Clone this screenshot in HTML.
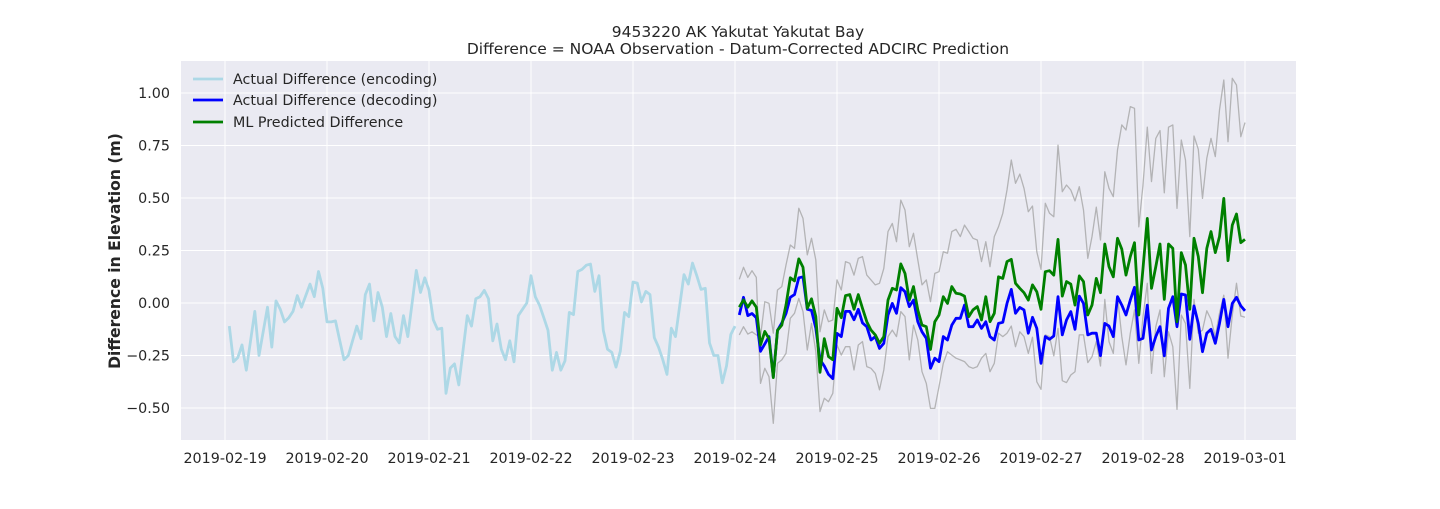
<!DOCTYPE html>
<html><head><meta charset="utf-8"><style>
body{margin:0;background:#fff;width:1440px;height:504px;overflow:hidden}
text{font-family:"DejaVu Sans","Liberation Sans",sans-serif;fill:#262626}
</style></head><body>
<svg id="chart" width="1440" height="504" xmlns="http://www.w3.org/2000/svg">
<rect x="0" y="0" width="1440" height="504" fill="#fff"/>
<rect x="181" y="61" width="1115" height="379" fill="#eaeaf2"/>
<g id="grid"></g>
<g id="series"></g>
<g id="ticks"></g>
<text x="738" y="37" text-anchor="middle" font-size="15.5">9453220 AK Yakutat Yakutat Bay</text>
<text x="738" y="54" text-anchor="middle" font-size="15.5">Difference = NOAA Observation - Datum-Corrected ADCIRC Prediction</text>
<text transform="translate(120,251) rotate(-90)" text-anchor="middle" font-size="15.6" font-weight="bold">Difference in Elevation (m)</text>
<g>
<line x1="193" y1="79" x2="223" y2="79" stroke="#add8e6" stroke-width="2.8"/>
<text x="233" y="84" font-size="14.3">Actual Difference (encoding)</text>
<line x1="193" y1="100" x2="223" y2="100" stroke="#0000ff" stroke-width="2.8"/>
<text x="233" y="105" font-size="14.3">Actual Difference (decoding)</text>
<line x1="193" y1="122" x2="223" y2="122" stroke="#008000" stroke-width="2.8"/>
<text x="233" y="127" font-size="14.3">ML Predicted Difference</text>
</g>
</svg>
<script>
const encHours=[1,2,3,4,5,7,8,10,11,12,13,14,15,16,17,18,20,21,22,23,24,25,26,27,28,29,31,32,33,34,35,36,37,38,39,40,41,42,43,45,46,47,48,49,50,51,52,53,54,55,57,58,59,60,61,62,63,64,65,66,67,68,69,70,71,72,73,74,75,76,77,78,79,80,81,82,83,84,85,86,87,88,89,90,91,92,93,94,95,96,97,98,99,100,101,102,103,104,105,106,107,108,109,110,111,112,113,114,115,116,117,118,119,120];
const encValues=[-0.11,-0.28,-0.26,-0.20,-0.32,-0.04,-0.25,-0.02,-0.21,0.01,-0.03,-0.09,-0.07,-0.04,0.035,-0.02,0.09,0.03,0.15,0.07,-0.09,-0.09,-0.085,-0.18,-0.27,-0.25,-0.11,-0.17,0.04,0.09,-0.085,0.05,-0.02,-0.16,-0.05,-0.16,-0.19,-0.06,-0.16,0.155,0.05,0.12,0.06,-0.08,-0.125,-0.12,-0.43,-0.31,-0.29,-0.39,-0.06,-0.11,0.02,0.03,0.06,0.02,-0.18,-0.10,-0.22,-0.27,-0.18,-0.28,-0.06,-0.03,0.0,0.13,0.03,-0.01,-0.07,-0.13,-0.32,-0.235,-0.32,-0.275,-0.045,-0.055,0.15,0.16,0.18,0.185,0.055,0.13,-0.13,-0.22,-0.235,-0.305,-0.23,-0.045,-0.065,0.10,0.095,0.005,0.055,0.04,-0.165,-0.21,-0.27,-0.34,-0.12,-0.16,-0.01,0.135,0.09,0.19,0.13,0.065,0.07,-0.19,-0.25,-0.25,-0.38,-0.30,-0.15,-0.11];
const decStartHour=121;
const decValues=[-0.057,0.027,-0.06,-0.05,-0.07,-0.23,-0.195,-0.16,-0.35,-0.13,-0.095,-0.05,0.027,0.04,0.12,0.125,-0.03,-0.035,-0.12,-0.27,-0.30,-0.34,-0.36,-0.145,-0.16,-0.04,-0.04,-0.08,-0.03,-0.095,
-0.113,-0.176,-0.160,-0.216,-0.192,-0.057,-0.002,-0.049,0.073,0.054,-0.017,0.014,-0.089,-0.137,-0.168,-0.311,-0.263,-0.279,-0.160,-0.176,-0.105,-0.073,-0.073,-0.01,-0.113,-0.113,-0.081,-0.121,-0.089,-0.16,-0.176,
-0.097,-0.092,-0.002,0.065,-0.049,-0.021,-0.033,-0.144,-0.068,-0.121,-0.287,-0.160,-0.173,-0.157,0.03,-0.152,-0.081,-0.041,-0.125,0.033,-0.002,-0.152,-0.144,-0.144,-0.251,-0.097,-0.11,-0.16,0.03,-0.01,
-0.057,0.014,0.075,-0.176,-0.168,-0.01,-0.224,-0.16,-0.113,-0.252,-0.025,0.03,-0.113,0.043,0.038,-0.173,-0.014,-0.097,-0.232,-0.144,-0.125,-0.192,-0.097,0.017,-0.113,-0.002,0.027,-0.014,-0.037];
const mlValues=[-0.02,0.015,-0.02,0.01,-0.02,-0.20,-0.135,-0.17,-0.355,-0.13,-0.105,-0.01,0.12,0.105,0.21,0.17,-0.025,0.02,-0.065,-0.33,-0.17,-0.255,-0.27,-0.025,-0.07,0.035,0.04,-0.03,0.04,-0.025,
-0.089,-0.129,-0.152,-0.192,-0.160,0.014,0.07,0.062,0.186,0.141,0.014,0.078,-0.033,-0.105,-0.113,-0.221,-0.089,-0.057,0.03,-0.002,0.078,0.046,0.043,0.033,-0.065,-0.033,-0.017,-0.081,0.03,-0.089,-0.049,
0.125,0.117,0.197,0.208,0.094,0.07,0.049,0.014,0.086,0.054,-0.03,0.149,0.154,0.133,0.303,0.033,0.102,0.09,-0.01,0.129,0.102,-0.057,-0.01,0.117,0.049,0.281,0.173,0.125,0.308,0.256,
0.133,0.221,0.287,-0.057,0.165,0.403,0.07,0.173,0.281,0.017,0.281,0.26,-0.089,0.24,0.181,-0.03,0.308,0.221,0.049,0.26,0.34,0.24,0.316,0.498,0.202,0.371,0.424,0.287,0.303];
const grayA=[0.113,0.17,0.122,0.154,0.122,-0.383,-0.311,-0.351,-0.573,-0.287,-0.271,-0.240,-0.073,-0.049,0.022,-0.041,-0.224,-0.097,-0.232,-0.517,-0.454,-0.470,-0.430,-0.2,-0.248,-0.208,-0.208,-0.319,-0.2,-0.184,
-0.303,-0.311,-0.335,-0.414,-0.319,-0.16,-0.129,-0.16,-0.041,-0.065,-0.271,-0.105,-0.176,-0.327,-0.383,-0.502,-0.502,-0.398,-0.287,-0.232,-0.248,-0.263,-0.271,-0.279,-0.303,-0.311,-0.303,-0.263,-0.24,-0.327,-0.287,
-0.144,-0.16,-0.144,-0.11,-0.208,-0.137,-0.16,-0.24,-0.163,-0.375,-0.411,-0.152,-0.16,-0.252,-0.121,-0.37,-0.379,-0.343,-0.327,-0.152,-0.152,-0.284,-0.256,-0.184,-0.3,0.017,-0.184,-0.24,0.03,-0.16,
-0.295,-0.144,-0.033,-0.287,-0.065,0.094,-0.335,-0.113,-0.033,-0.351,-0.137,-0.208,-0.506,-0.057,-0.097,-0.406,0.017,-0.144,-0.129,-0.037,-0.078,-0.16,-0.049,0.037,-0.263,-0.057,0.094,-0.062,-0.068];
const grayB=[-0.152,-0.113,-0.148,-0.137,-0.152,-0.16,0.006,-0.002,-0.144,0.062,0.078,0.181,0.276,0.26,0.451,0.403,0.229,0.308,0.205,-0.137,-0.033,-0.089,-0.081,0.11,0.062,0.197,0.189,0.133,0.213,0.221,
0.133,0.11,0.086,0.094,0.165,0.34,0.379,0.292,0.49,0.443,0.268,0.332,0.205,0.086,0.11,0.006,0.141,0.149,0.244,0.237,0.34,0.351,0.316,0.371,0.34,0.308,0.3,0.197,0.292,0.173,0.316,
0.363,0.427,0.538,0.681,0.57,0.614,0.546,0.435,0.462,0.244,0.16,0.475,0.427,0.411,0.752,0.53,0.562,0.538,0.486,0.554,0.443,0.213,0.316,0.456,0.3,0.625,0.546,0.506,0.729,0.848,
0.824,0.935,0.927,0.363,0.562,0.837,0.578,0.784,0.821,0.525,0.837,0.848,0.451,0.776,0.681,0.316,0.795,0.732,0.498,0.689,0.784,0.697,0.919,1.062,0.768,1.07,1.038,0.792,0.859];
const xTickLabels=["2019-02-19","2019-02-20","2019-02-21","2019-02-22","2019-02-23","2019-02-24","2019-02-25","2019-02-26","2019-02-27","2019-02-28","2019-03-01"];
const yTickValues=[-0.5,-0.25,0,0.25,0.5,0.75,1.0];
const yTickLabels=["−0.50","−0.25","0.00","0.25","0.50","0.75","1.00"];

const NS="http://www.w3.org/2000/svg";
function xScale(h){return 225+h/24*102;}
function yScale(v){return 303-210*v;}
function mk(tag,attrs,parent){const e=document.createElementNS(NS,tag);for(const k in attrs)e.setAttribute(k,attrs[k]);parent.appendChild(e);return e;}
const grid=document.getElementById('grid'),ticks=document.getElementById('ticks'),series=document.getElementById('series');
xTickLabels.forEach((lab,i)=>{
  const x=xScale(i*24);
  const g=mk('line',{x1:x,x2:x,y1:61,y2:440,stroke:'#fff','stroke-width':1},grid);
  
  
  const t=mk('text',{x:x,y:463,'text-anchor':'middle','font-size':14.3},ticks);
  t.textContent=lab;
  
  
});
yTickValues.forEach((v,i)=>{
  const y=yScale(v);
  const g=mk('line',{x1:181,x2:1296,y1:y,y2:y,stroke:'#fff','stroke-width':1},grid);
  
  
  const t=mk('text',{x:170,y:y+5,'text-anchor':'end','font-size':14.3},ticks);
  t.textContent=yTickLabels[i];
  
  
});
function poly(hours,vals,color,w,name,op){
  const pts=vals.map((v,i)=>xScale(hours[i]).toFixed(1)+','+yScale(v).toFixed(1)).join(' ');
  const p=mk('polyline',{points:pts,fill:'none',stroke:color,'stroke-width':w,'stroke-linejoin':'round','stroke-opacity':op},series);
  
  
}
const decHours=decValues.map((_,i)=>decStartHour+i);
poly(decHours,grayA,'#a0a0a0',1.3,'gray-bound-a',0.75);
poly(decHours,grayB,'#a0a0a0',1.3,'gray-bound-b',0.75);
poly(encHours,encValues,'#add8e6',2.8,'encoding-line',1);
poly(decHours,decValues,'#0000ff',2.8,'decoding-line',1);
poly(decHours,mlValues,'#008000',2.8,'ml-predicted-line',1);
</script>
</body></html>
